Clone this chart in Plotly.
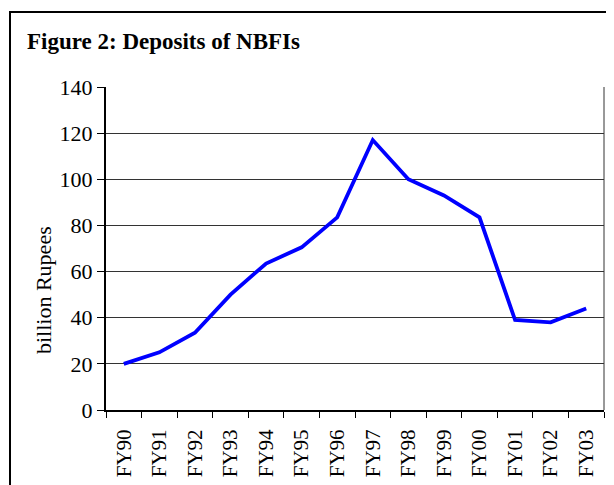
import plotly.graph_objects as go

years = ["FY90", "FY91", "FY92", "FY93", "FY94", "FY95", "FY96",
         "FY97", "FY98", "FY99", "FY00", "FY01", "FY02", "FY03"]
deposits = [20, 25, 33.5, 50, 63.5, 70.5, 83.5, 117, 100, 93, 83.5, 39, 38, 44]
y_ticks = [0, 20, 40, 60, 80, 100, 120, 140]

FONT = "Liberation Serif, Times New Roman, serif"

# page body has an 8px margin, so the figure sits at (8, 8) in the window
OFF = 8
PX0, PX1, PY0, PY1 = 106, 604, 87, 410   # plot area in window pixels
L, T = PX0 - OFF, PY0 - OFF
pw, ph = PX1 - PX0, PY1 - PY0
W, H = 614 - OFF, 485 - OFF
R, B = W - L - pw, H - T - ph


def px(wx):
    return (wx - PX0) / pw


def py(wy):
    return (PY1 - wy) / ph


fig = go.Figure()
fig.add_trace(go.Scatter(x=years, y=deposits, mode="lines",
                         line=dict(color="#0000FF", width=3.8)))

fig.update_layout(
    width=W, height=H,
    margin=dict(l=L, r=R, t=T, b=B, autoexpand=False),
    paper_bgcolor="white", plot_bgcolor="white",
    showlegend=False,
    font=dict(family=FONT, size=22, color="black"),
    annotations=[
        dict(text="<b>Figure 2: Deposits of NBFIs</b>",
             xref="paper", yref="paper", x=px(25), y=py(42),
             xanchor="left", yanchor="middle", showarrow=False,
             font=dict(family=FONT, size=23, color="black")),
        dict(text="billion Rupees", textangle=-90,
             xref="paper", yref="paper", x=px(43), y=py(290),
             xanchor="center", yanchor="middle", showarrow=False,
             font=dict(family=FONT, size=22, color="black")),
    ],
    shapes=[dict(type="rect", xref="paper", yref="paper",
                 x0=px(10), y0=py(600), x1=px(700), y1=py(12),
                 line=dict(color="black", width=2), layer="below")],
)

fig.update_xaxes(type="category", range=[-0.5, 13.5], tickangle=-90,
                 showgrid=False, automargin=False,
                 ticks="outside", tickson="boundaries", ticklen=6,
                 ticklabelstandoff=9,
                 tickcolor="black", showline=True, linecolor="black",
                 linewidth=2, tickfont=dict(family=FONT, size=21))
fig.update_yaxes(range=[0, 140], tickvals=y_ticks, showgrid=True,
                 automargin=False,
                 gridcolor="#333333", gridwidth=1, ticks="outside",
                 ticklen=7, tickcolor="black", showline=True,
                 linecolor="black", linewidth=2, zeroline=False,
                 tickfont=dict(family=FONT, size=22))

fig.add_shape(type="line", xref="paper", yref="paper", x0=1, x1=1, y0=0, y1=1,
              line=dict(color="#333333", width=1))

fig.write_html("out.html")
